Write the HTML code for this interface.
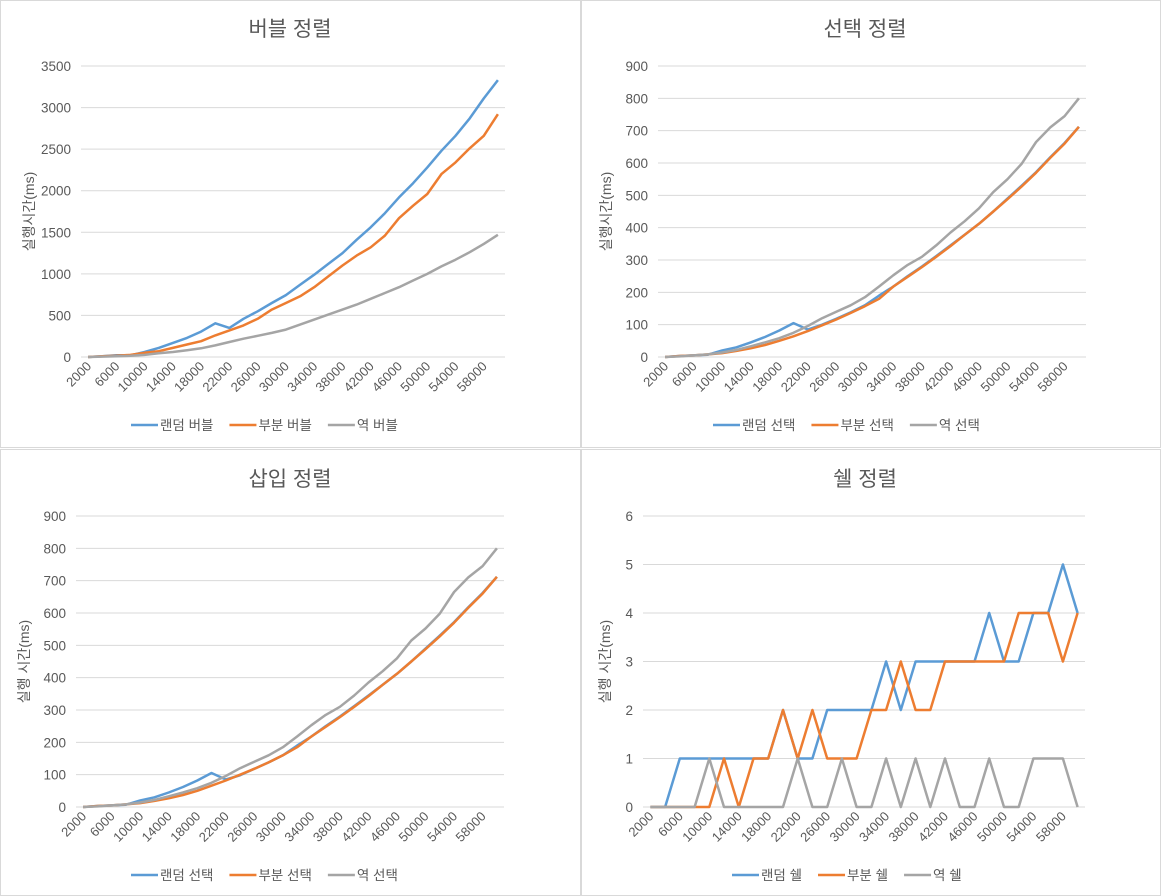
<!DOCTYPE html>
<html><head><meta charset="utf-8">
<style>
html,body{margin:0;padding:0;background:#fff;width:1161px;height:896px;overflow:hidden}
svg{position:absolute;left:0;top:0}
text{font-family:"Liberation Sans","Noto Sans CJK KR",sans-serif;fill:#595959}
</style></head>
<body>
<svg id="chart" width="1161" height="896"></svg>
<script>
const categories = [2000,4000,6000,8000,10000,12000,14000,16000,18000,20000,22000,24000,26000,28000,30000,32000,34000,36000,38000,40000,42000,44000,46000,48000,50000,52000,54000,56000,58000,60000];
const bubbleRandom = [0,10,20,20,60,110,170,230,305,405,350,460,550,650,745,870,990,1120,1250,1410,1560,1730,1920,2090,2280,2480,2660,2870,3110,3330];
const bubblePartial = [0,10,15,25,50,70,110,150,190,260,320,380,460,570,650,730,840,970,1100,1220,1320,1460,1670,1820,1960,2200,2340,2510,2660,2920];
const bubbleReverse = [0,5,10,15,25,45,60,80,105,140,180,220,255,290,330,390,450,510,570,630,700,770,840,920,1000,1090,1170,1260,1360,1470];
const selRandom = [0,3,5,7,20,30,45,62,82,105,85,100,118,138,160,190,218,250,280,312,345,378,412,450,490,530,572,618,662,712];
const selPartial = [0,3,5,8,12,19,27,37,50,64,80,98,116,136,157,180,218,248,278,310,343,378,412,450,488,528,570,616,660,712];
const selReverse = [0,2,5,8,14,22,33,45,58,75,96,120,140,160,185,218,253,285,310,345,385,420,460,510,550,598,665,710,745,800];
const insRandom = [0,3,5,7,20,30,45,62,82,105,85,98,118,138,160,190,218,250,280,312,345,378,412,450,490,530,572,618,662,712];
const insPartial = [0,3,5,8,12,19,27,37,50,66,82,100,118,138,160,185,218,248,278,310,343,378,412,450,488,528,570,616,660,712];
const insReverse = [0,2,5,8,14,22,33,45,58,75,96,120,140,160,185,218,253,285,310,345,385,420,460,515,552,598,665,710,745,800];
const shellRandom = [0,0,1,1,1,1,1,1,1,2,1,1,2,2,2,2,3,2,3,3,3,3,3,4,3,3,4,4,5,4];
const shellPartial = [0,0,0,0,0,1,0,1,1,2,1,2,1,1,1,2,2,3,2,2,3,3,3,3,3,4,4,4,3,4];
const shellReverse = [0,0,0,0,1,0,0,0,0,0,1,0,0,1,0,0,1,0,1,0,1,0,0,1,0,0,1,1,1,0];
const bubbleTicks = [0,500,1000,1500,2000,2500,3000,3500];
const hundredTicks = [0,100,200,300,400,500,600,700,800,900];
const shellTicks = [0,1,2,3,4,5,6];
const seriesColors = ['#5b9bd5','#ed7d31','#a5a5a5'];

const NS='http://www.w3.org/2000/svg';
const svg=document.getElementById('chart');
function mk(tag,attrs,parent){const e=document.createElementNS(NS,tag);for(const k in attrs)e.setAttribute(k,attrs[k]);(parent||svg).appendChild(e);return e;}

[[0.5,0.5,580,447],[581.5,0.5,579,447],[0.5,449.5,580,446],[581.5,449.5,579,446]].forEach((b,i)=>{
  const r=mk('rect',{x:b[0],y:b[1],width:b[2],height:b[3],fill:'#fff',stroke:'#d9d9d9','stroke-width':1});
  
  
});

function drawChart(o){
  const g=mk('g',{});
  
  
  const yMax=o.ticks[o.ticks.length-1];
  const n=categories.length, step=(o.right-o.left)/n;
  const xs=i=>o.left+step*(i+0.5);
  const ys=v=>o.bottom-(v/yMax)*(o.bottom-o.top);
  const t=mk('text',{x:o.cx,y:o.top-30,'text-anchor':'middle','font-size':21},g);
  t.textContent=o.title;
  
  
  o.ticks.forEach(v=>{
    const l=mk('line',{x1:o.left,x2:o.right,y1:ys(v),y2:ys(v),stroke:'#d9d9d9','stroke-width':1},g);
    
    
    const tx=mk('text',{x:o.left-10,y:ys(v)+5,'text-anchor':'end','font-size':13.5},g);
    tx.textContent=v;
    
    
  });
  categories.forEach((c,i)=>{
    if(i%2)return;
    const x=xs(i)+4,y=o.bottom+10;
    const tx=mk('text',{x:x,y:y,'text-anchor':'end','font-size':13,transform:`rotate(-45 ${x} ${y})`},g);
    tx.textContent=c;
    
    
  });
  const yl=mk('text',{x:0,y:0,'text-anchor':'middle','font-size':14,transform:`translate(${o.left-o.yOff},${(o.top+o.bottom)/2}) rotate(-90)`},g);
  yl.textContent=o.ylabel;
  
  
  o.series.forEach((s,si)=>{
    const p=mk('polyline',{points:s.map((v,i)=>xs(i).toFixed(1)+','+ys(v).toFixed(1)).join(' '),fill:'none',stroke:seriesColors[si],'stroke-width':2.5,'stroke-linejoin':'round'},g);
    
    
  });
  let lx=o.legendX;
  o.legend.forEach((name,si)=>{
    const l=mk('line',{x1:lx,x2:lx+27,y1:o.legendY,y2:o.legendY,stroke:seriesColors[si],'stroke-width':2.5},g);
    
    
    const tx=mk('text',{x:lx+29,y:o.legendY+5,'font-size':13.5},g);
    tx.textContent=name;
    
    
    lx+=29+tx.getComputedTextLength()+16;
  });
}

drawChart({name:'bubble-sort-chart',title:'버블 정렬',ylabel:'실행시간(ms)',left:81,right:505,top:66,bottom:357,cx:290,yOff:47,ticks:bubbleTicks,
  series:[bubbleRandom,bubblePartial,bubbleReverse],legend:['랜덤 버블','부분 버블','역 버블'],legendX:131,legendY:425});
drawChart({name:'selection-sort-chart',title:'선택 정렬',ylabel:'실행시간(ms)',left:658,right:1086,top:66,bottom:357,cx:865,yOff:47,ticks:hundredTicks,
  series:[selRandom,selPartial,selReverse],legend:['랜덤 선택','부분 선택','역 선택'],legendX:713,legendY:425});
drawChart({name:'insertion-sort-chart',title:'삽입 정렬',ylabel:'실행 시간(ms)',left:76,right:504,top:516,bottom:807,cx:290,yOff:47,ticks:hundredTicks,
  series:[insRandom,insPartial,insReverse],legend:['랜덤 선택','부분 선택','역 선택'],legendX:131,legendY:875});
drawChart({name:'shell-sort-chart',title:'쉘 정렬',ylabel:'실행 시간(ms)',left:643,right:1085,top:516,bottom:807,cx:865,yOff:33,ticks:shellTicks,
  series:[shellRandom,shellPartial,shellReverse],legend:['랜덤 쉘','부분 쉘','역 쉘'],legendX:732,legendY:875});
</script>
</body></html>
